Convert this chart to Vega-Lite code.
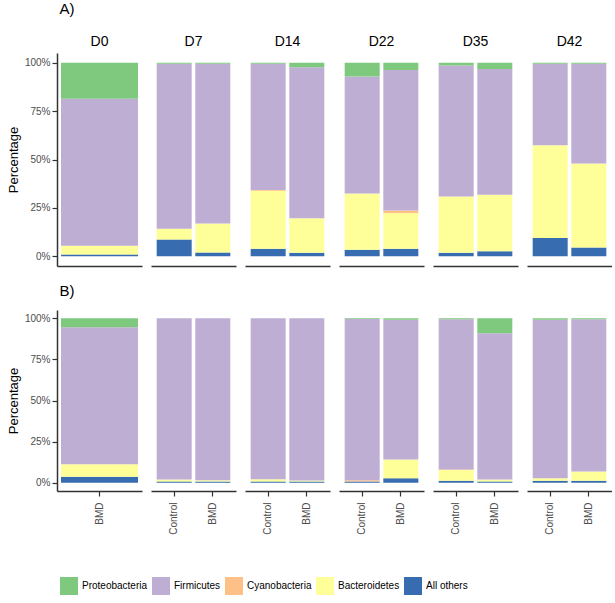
{
  "$schema": "https://vega.github.io/schema/vega-lite/v6.json",
  "padding": {"left": 7, "top": 2, "right": 0, "bottom": 5},
  "datasets": {
    "rows": [
      {"panel":"A","day":"D0","group":"BMD","phylum":"All others","pct":1},
      {"panel":"A","day":"D0","group":"BMD","phylum":"Bacteroidetes","pct":4.5},
      {"panel":"A","day":"D0","group":"BMD","phylum":"Firmicutes","pct":75.9},
      {"panel":"A","day":"D0","group":"BMD","phylum":"Proteobacteria","pct":18.6},
      {"panel":"A","day":"D7","group":"Control","phylum":"All others","pct":8.7},
      {"panel":"A","day":"D7","group":"Control","phylum":"Bacteroidetes","pct":5.5},
      {"panel":"A","day":"D7","group":"Control","phylum":"Firmicutes","pct":85.3},
      {"panel":"A","day":"D7","group":"Control","phylum":"Proteobacteria","pct":0.5},
      {"panel":"A","day":"D7","group":"BMD","phylum":"All others","pct":2},
      {"panel":"A","day":"D7","group":"BMD","phylum":"Bacteroidetes","pct":14.9},
      {"panel":"A","day":"D7","group":"BMD","phylum":"Firmicutes","pct":82.6},
      {"panel":"A","day":"D7","group":"BMD","phylum":"Proteobacteria","pct":0.5},
      {"panel":"A","day":"D14","group":"Control","phylum":"All others","pct":3.9},
      {"panel":"A","day":"D14","group":"Control","phylum":"Bacteroidetes","pct":30},
      {"panel":"A","day":"D14","group":"Control","phylum":"Cyanobacteria","pct":0.3},
      {"panel":"A","day":"D14","group":"Control","phylum":"Firmicutes","pct":65.3},
      {"panel":"A","day":"D14","group":"Control","phylum":"Proteobacteria","pct":0.5},
      {"panel":"A","day":"D14","group":"BMD","phylum":"All others","pct":1.9},
      {"panel":"A","day":"D14","group":"BMD","phylum":"Bacteroidetes","pct":17.8},
      {"panel":"A","day":"D14","group":"BMD","phylum":"Firmicutes","pct":77.9},
      {"panel":"A","day":"D14","group":"BMD","phylum":"Proteobacteria","pct":2.4},
      {"panel":"A","day":"D22","group":"Control","phylum":"All others","pct":3.4},
      {"panel":"A","day":"D22","group":"Control","phylum":"Bacteroidetes","pct":29.1},
      {"panel":"A","day":"D22","group":"Control","phylum":"Firmicutes","pct":60.3},
      {"panel":"A","day":"D22","group":"Control","phylum":"Proteobacteria","pct":7.2},
      {"panel":"A","day":"D22","group":"BMD","phylum":"All others","pct":3.9},
      {"panel":"A","day":"D22","group":"BMD","phylum":"Bacteroidetes","pct":18.5},
      {"panel":"A","day":"D22","group":"BMD","phylum":"Cyanobacteria","pct":1.2},
      {"panel":"A","day":"D22","group":"BMD","phylum":"Firmicutes","pct":72.6},
      {"panel":"A","day":"D22","group":"BMD","phylum":"Proteobacteria","pct":3.8},
      {"panel":"A","day":"D35","group":"Control","phylum":"All others","pct":1.9},
      {"panel":"A","day":"D35","group":"Control","phylum":"Bacteroidetes","pct":29},
      {"panel":"A","day":"D35","group":"Control","phylum":"Firmicutes","pct":67.6},
      {"panel":"A","day":"D35","group":"Control","phylum":"Proteobacteria","pct":1.5},
      {"panel":"A","day":"D35","group":"BMD","phylum":"All others","pct":2.6},
      {"panel":"A","day":"D35","group":"BMD","phylum":"Bacteroidetes","pct":29.2},
      {"panel":"A","day":"D35","group":"BMD","phylum":"Firmicutes","pct":65},
      {"panel":"A","day":"D35","group":"BMD","phylum":"Proteobacteria","pct":3.2},
      {"panel":"A","day":"D42","group":"Control","phylum":"All others","pct":9.4},
      {"panel":"A","day":"D42","group":"Control","phylum":"Bacteroidetes","pct":47.9},
      {"panel":"A","day":"D42","group":"Control","phylum":"Firmicutes","pct":42.2},
      {"panel":"A","day":"D42","group":"Control","phylum":"Proteobacteria","pct":0.5},
      {"panel":"A","day":"D42","group":"BMD","phylum":"All others","pct":4.6},
      {"panel":"A","day":"D42","group":"BMD","phylum":"Bacteroidetes","pct":43.3},
      {"panel":"A","day":"D42","group":"BMD","phylum":"Firmicutes","pct":51.6},
      {"panel":"A","day":"D42","group":"BMD","phylum":"Proteobacteria","pct":0.5},
      {"panel":"B","day":"D0","group":"BMD","phylum":"All others","pct":3.7},
      {"panel":"B","day":"D0","group":"BMD","phylum":"Bacteroidetes","pct":7.5},
      {"panel":"B","day":"D0","group":"BMD","phylum":"Firmicutes","pct":83.3},
      {"panel":"B","day":"D0","group":"BMD","phylum":"Proteobacteria","pct":5.5},
      {"panel":"B","day":"D7","group":"Control","phylum":"All others","pct":0.8},
      {"panel":"B","day":"D7","group":"Control","phylum":"Bacteroidetes","pct":1.2},
      {"panel":"B","day":"D7","group":"Control","phylum":"Firmicutes","pct":98},
      {"panel":"B","day":"D7","group":"BMD","phylum":"All others","pct":0.8},
      {"panel":"B","day":"D7","group":"BMD","phylum":"Bacteroidetes","pct":0.8},
      {"panel":"B","day":"D7","group":"BMD","phylum":"Firmicutes","pct":98.4},
      {"panel":"B","day":"D14","group":"Control","phylum":"All others","pct":0.8},
      {"panel":"B","day":"D14","group":"Control","phylum":"Bacteroidetes","pct":1.4},
      {"panel":"B","day":"D14","group":"Control","phylum":"Firmicutes","pct":97.8},
      {"panel":"B","day":"D14","group":"BMD","phylum":"All others","pct":0.8},
      {"panel":"B","day":"D14","group":"BMD","phylum":"Bacteroidetes","pct":0.6},
      {"panel":"B","day":"D14","group":"BMD","phylum":"Firmicutes","pct":98.6},
      {"panel":"B","day":"D22","group":"Control","phylum":"All others","pct":0.8},
      {"panel":"B","day":"D22","group":"Control","phylum":"Cyanobacteria","pct":0.8},
      {"panel":"B","day":"D22","group":"Control","phylum":"Firmicutes","pct":97.9},
      {"panel":"B","day":"D22","group":"Control","phylum":"Proteobacteria","pct":0.5},
      {"panel":"B","day":"D22","group":"BMD","phylum":"All others","pct":2.8},
      {"panel":"B","day":"D22","group":"BMD","phylum":"Bacteroidetes","pct":11.4},
      {"panel":"B","day":"D22","group":"BMD","phylum":"Firmicutes","pct":84.8},
      {"panel":"B","day":"D22","group":"BMD","phylum":"Proteobacteria","pct":1},
      {"panel":"B","day":"D35","group":"Control","phylum":"All others","pct":1.2},
      {"panel":"B","day":"D35","group":"Control","phylum":"Bacteroidetes","pct":6.5},
      {"panel":"B","day":"D35","group":"Control","phylum":"Cyanobacteria","pct":0.4},
      {"panel":"B","day":"D35","group":"Control","phylum":"Firmicutes","pct":91.3},
      {"panel":"B","day":"D35","group":"Control","phylum":"Proteobacteria","pct":0.6},
      {"panel":"B","day":"D35","group":"BMD","phylum":"All others","pct":0.8},
      {"panel":"B","day":"D35","group":"BMD","phylum":"Bacteroidetes","pct":1.2},
      {"panel":"B","day":"D35","group":"BMD","phylum":"Firmicutes","pct":88.9},
      {"panel":"B","day":"D35","group":"BMD","phylum":"Proteobacteria","pct":9.1},
      {"panel":"B","day":"D42","group":"Control","phylum":"All others","pct":1.2},
      {"panel":"B","day":"D42","group":"Control","phylum":"Bacteroidetes","pct":1.6},
      {"panel":"B","day":"D42","group":"Control","phylum":"Firmicutes","pct":96.2},
      {"panel":"B","day":"D42","group":"Control","phylum":"Proteobacteria","pct":1},
      {"panel":"B","day":"D42","group":"BMD","phylum":"All others","pct":1.2},
      {"panel":"B","day":"D42","group":"BMD","phylum":"Bacteroidetes","pct":5.7},
      {"panel":"B","day":"D42","group":"BMD","phylum":"Firmicutes","pct":92.5},
      {"panel":"B","day":"D42","group":"BMD","phylum":"Proteobacteria","pct":0.6}
    ]
  },
  "data": {"name": "rows"},
  "spacing": 18,
  "vconcat": [
    {
      "title": {"text": "A)", "anchor": "start", "fontSize": 15, "fontWeight": "normal", "font": "Liberation Sans", "offset": 18, "dx": 52},
      "transform": [{"filter": "datum.panel === 'A'"}],
      "facet": {"column": {"field": "day", "type": "nominal", "sort": ["D0","D7","D14","D22","D35","D42"],
        "header": {"title": null, "labelFontSize": 14, "labelFont": "Liberation Sans", "labelPadding": 4}}},
      "spacing": 9,
      "resolve": {"scale": {"x": "independent"}},
      "spec": {
        "width": 85, "height": 213,
        "mark": {"type": "bar", "width": {"expr": "datum.day === 'D0' ? 77 : 35"}},
        "encoding": {
          "x": {"field": "group", "type": "nominal", "sort": ["Control","BMD"],
            "scale": {"paddingInner": 0.1, "paddingOuter": 0.15},
            "axis": {"labels": false, "ticks": false, "title": null}},
          "y": {"field": "pct", "type": "quantitative", "stack": "normalize",
            "scale": {"domain": [-0.05, 1.05], "nice": false},
            "axis": {"values": [0, 0.25, 0.5, 0.75, 1], "format": ".0%", "title": "Percentage"}},
          "color": {"field": "phylum", "type": "nominal",
            "scale": {"domain": ["Proteobacteria","Firmicutes","Cyanobacteria","Bacteroidetes","All others"],
              "range": ["#7fc97f","#beaed4","#fdc086","#ffff99","#386cb0"]},
            "legend": {"title": null, "orient": "none", "legendX": 3, "legendY": 524}},
          "order": {"field": "phylum", "sort": "ascending"}
        }
      }
    },
    {
      "title": {"text": "B)", "anchor": "start", "fontSize": 15, "fontWeight": "normal", "font": "Liberation Sans", "offset": 11, "dx": 52},
      "transform": [{"filter": "datum.panel === 'B'"}],
      "facet": {"column": {"field": "day", "type": "nominal", "sort": ["D0","D7","D14","D22","D35","D42"],
        "header": {"title": null, "labels": false}}},
      "spacing": 9,
      "resolve": {"scale": {"x": "independent"}},
      "spec": {
        "width": 85, "height": 181,
        "mark": {"type": "bar", "width": {"expr": "datum.day === 'D0' ? 77 : 35"}},
        "encoding": {
          "x": {"field": "group", "type": "nominal", "sort": ["Control","BMD"],
            "scale": {"paddingInner": 0.1, "paddingOuter": 0.15},
            "axis": {"title": null, "labelAngle": 270, "labelAlign": "right", "labelBaseline": "middle", "labelPadding": 6, "tickSize": 5}},
          "y": {"field": "pct", "type": "quantitative", "stack": "normalize",
            "scale": {"domain": [-0.05, 1.05], "nice": false},
            "axis": {"values": [0, 0.25, 0.5, 0.75, 1], "format": ".0%", "title": "Percentage"}},
          "color": {"field": "phylum", "type": "nominal",
            "scale": {"domain": ["Proteobacteria","Firmicutes","Cyanobacteria","Bacteroidetes","All others"],
              "range": ["#7fc97f","#beaed4","#fdc086","#ffff99","#386cb0"]},
            "legend": {"title": null, "orient": "none", "legendX": 3, "legendY": 524}},
          "order": {"field": "phylum", "sort": "ascending"}
        }
      }
    }
  ],
  "config": {
    "view": {"stroke": null},
    "font": "Liberation Sans",
    "axis": {"grid": false, "labelColor": "#4d4d4d", "labelFontSize": 10, "labelFont": "Liberation Sans",
      "titleFont": "Liberation Sans", "titleFontWeight": "normal", "titleFontSize": 13, "titleColor": "#000",
      "domainColor": "#333", "domainWidth": 1.5, "tickColor": "#333", "tickWidth": 1.2, "tickSize": 5},
    "legend": {"direction": "horizontal", "symbolType": "square", "symbolSize": 324,
      "symbolStrokeWidth": 0, "symbolOpacity": 1, "labelFontSize": 10, "labelFont": "Liberation Sans", "labelColor": "#000",
      "columnPadding": 4, "labelOffset": 4}
  }
}
